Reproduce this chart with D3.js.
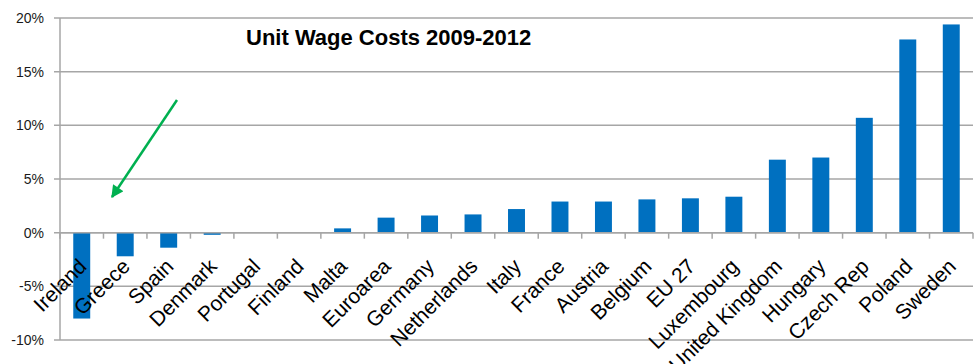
<!DOCTYPE html>
<html>
<head>
<meta charset="utf-8">
<script src="https://cdn.jsdelivr.net/npm/d3@7"></script>
<style>
  body { margin: 0; background: #fff; }
  svg { font-family: "Liberation Sans", Arial, sans-serif; }
  .grid line { stroke: #a6a6a6; stroke-width: 1.5; }
</style>
</head>
<body>
<svg width="979" height="364"></svg>
<script>
const countries = ["Ireland", "Greece", "Spain", "Denmark", "Portugal", "Finland", "Malta",
  "Euroarea", "Germany", "Netherlands", "Italy", "France", "Austria", "Belgium", "EU 27",
  "Luxembourg", "United Kingdom", "Hungary", "Czech Rep", "Poland", "Sweden"];
const wageCosts = [-8.0, -2.2, -1.4, -0.2, 0.05, 0.05, 0.4, 1.4, 1.6, 1.7, 2.2, 2.9, 2.9,
  3.1, 3.2, 3.35, 6.8, 7.0, 10.7, 18.0, 19.4];
const yTicks = [-10, -5, 0, 5, 10, 15, 20];
const title = "Unit Wage Costs 2009-2012";

const svg = d3.select("svg");
const plotLeft = 60, plotRight = 973, plotTop = 18, plotBottom = 340;

const x = d3.scaleBand()
  .domain(countries)
  .range([plotLeft, plotRight])
  .paddingInner(0.61)
  .paddingOuter(0.305);

const y = d3.scaleLinear()
  .domain([-10, 20])
  .range([plotBottom, plotTop]);

// horizontal gridlines
svg.append("g")
  .attr("class", "grid")
  .selectAll("line")
  .data(yTicks)
  .join("line")
  .attr("x1", plotLeft - 6)
  .attr("x2", plotRight)
  .attr("y1", d => y(d))
  .attr("y2", d => y(d));

// y axis
svg.append("line")
  .attr("x1", plotLeft).attr("x2", plotLeft)
  .attr("y1", y(20)).attr("y2", y(-10))
  .attr("stroke", "#a6a6a6").attr("stroke-width", 1.5);

svg.append("g")
  .selectAll("text")
  .data(yTicks)
  .join("text")
  .attr("x", plotLeft - 16)
  .attr("y", d => y(d))
  .attr("dy", "0.35em")
  .attr("text-anchor", "end")
  .attr("font-size", 14)
  .attr("fill", "#1a1a1a")
  .text(d => d + "%");

// bars
svg.append("g")
  .selectAll("rect")
  .data(countries)
  .join("rect")
  .attr("x", d => x(d))
  .attr("width", x.bandwidth())
  .attr("y", (d, i) => y(Math.max(0, wageCosts[i])))
  .attr("height", (d, i) => Math.abs(y(wageCosts[i]) - y(0)))
  .attr("fill", "#0070c0");

// category axis at zero
const step = x.step();
svg.append("g")
  .selectAll("line")
  .data(d3.range(countries.length + 1))
  .join("line")
  .attr("x1", i => plotLeft + i * step)
  .attr("x2", i => plotLeft + i * step)
  .attr("y1", y(0))
  .attr("y2", y(0) + 6)
  .attr("stroke", "#a6a6a6").attr("stroke-width", 1.5);

svg.append("line")
  .attr("x1", plotLeft).attr("x2", plotRight)
  .attr("y1", y(0)).attr("y2", y(0))
  .attr("stroke", "#a6a6a6").attr("stroke-width", 1.5);

// category labels
svg.append("g")
  .selectAll("text")
  .data(countries)
  .join("text")
  .attr("transform", d => `translate(${x(d) + x.bandwidth() / 2 + 6}, ${y(0) + 35}) rotate(-45)`)
  .attr("text-anchor", "end")
  .attr("font-size", 21)
  .attr("fill", "#000")
  .text(d => d);

// title
svg.append("text")
  .attr("x", 246)
  .attr("y", 45)
  .attr("font-size", 22)
  .attr("font-weight", "bold")
  .text(title);

// green arrow
const defs = svg.append("defs");
defs.append("marker")
  .attr("id", "head")
  .attr("viewBox", "0 0 10 10")
  .attr("refX", 9).attr("refY", 5)
  .attr("markerWidth", 6).attr("markerHeight", 5)
  .attr("markerUnits", "strokeWidth")
  .attr("orient", "auto")
  .append("path")
  .attr("d", "M0,0 L10,5 L0,10 Z")
  .attr("fill", "#00b050");

svg.append("line")
  .attr("x1", 177).attr("y1", 100)
  .attr("x2", 112).attr("y2", 197)
  .attr("stroke", "#00b050")
  .attr("stroke-width", 2.5)
  .attr("marker-end", "url(#head)");
</script>
</body>
</html>
